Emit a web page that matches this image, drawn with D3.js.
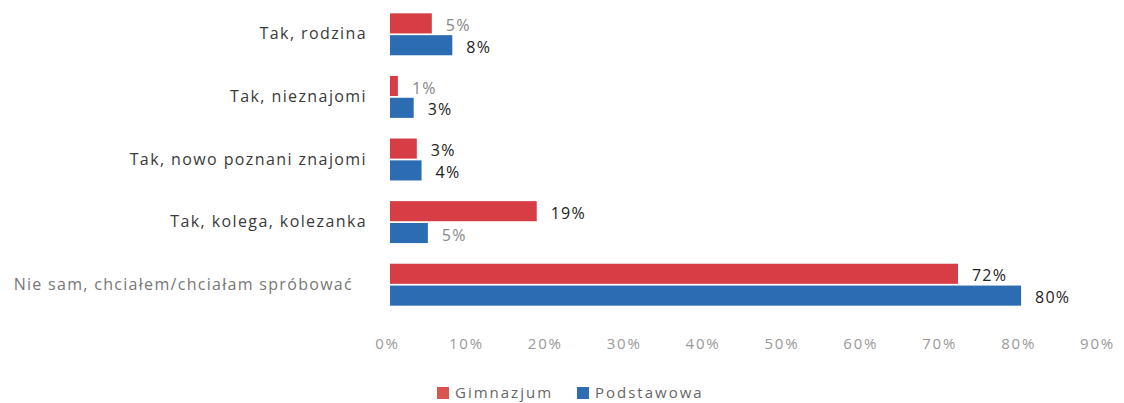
<!DOCTYPE html>
<html>
<head>
<meta charset="utf-8">
<script src="https://cdn.jsdelivr.net/npm/d3@7"></script>
<style>
  html, body { margin: 0; padding: 0; background: #fff; }
  svg { display: block; }
  text { font-family: "Open Sans", "DejaVu Sans", sans-serif; }
</style>
</head>
<body>
<svg id="chart" width="1124" height="403"></svg>
<script>
const categories = [
  "Tak, rodzina",
  "Tak, nieznajomi",
  "Tak, nowo poznani znajomi",
  "Tak, kolega, kolezanka",
  "Nie sam, chciałem/chciałam spróbować"
];
const seriesNames = ["Gimnazjum", "Podstawowa"];
const gimnazjum = [5.3, 1.0, 3.4, 18.6, 72];
const podstawowa = [7.9, 3.0, 4.0, 4.8, 80];
const xTicks = [0, 10, 20, 30, 40, 50, 60, 70, 80, 90];

const colors = ["#d63d45", "#2b6cb3"];
const legendColors = ["#d9534f", "#2e6db4"];
// labels that appear faded in the scanned original (series index, category index)
const fadedLabels = new Set(["0-0", "0-1", "1-3"]);

const svg = d3.select("#chart");
const values = [gimnazjum, podstawowa];

const x = d3.scaleLinear().domain([0, 90]).range([390, 1100]);
const y = d3.scaleBand().domain(categories).range([3, 316])
  .paddingInner(0.33).paddingOuter(0.165);
const ySub = d3.scaleBand().domain(seriesNames).range([0, y.bandwidth()]).paddingInner(0.08);

// bars
const g = svg.append("g");
categories.forEach((c, ci) => {
  seriesNames.forEach((s, si) => {
    const v = values[si][ci];
    g.append("rect")
      .attr("x", x(0))
      .attr("y", y(c) + ySub(s))
      .attr("width", x(v) - x(0))
      .attr("height", ySub.bandwidth())
      .attr("fill", colors[si]);
    g.append("text")
      .attr("x", x(v) + 14)
      .attr("y", y(c) + ySub(s) + ySub.bandwidth() / 2 + 2)
      .attr("dy", "0.35em")
      .attr("font-size", 16)
      .attr("letter-spacing", "1.2px")
      .attr("fill", fadedLabels.has(si + "-" + ci) ? "#888" : "#222")
      .text(Math.round(v) + "%");
  });
});

// category labels
const yAxis = svg.append("g").attr("transform", `translate(${x(0) - 23},0)`)
  .call(d3.axisLeft(y).tickSize(0).tickPadding(0));
yAxis.select(".domain").remove();
yAxis.selectAll("text")
  .attr("font-size", 16)
  .attr("font-family", "\"Open Sans\", sans-serif")
  .attr("fill", "#3a3a3a")
  .attr("letter-spacing", "1.4px")
  .attr("dy", "0.32em");
yAxis.selectAll(".tick").filter((d, i) => i === categories.length - 1)
  .select("text").attr("fill", "#777").attr("letter-spacing", "1.3px")
  .attr("x", -14);

// x axis
const xAxis = svg.append("g").attr("transform", "translate(0,330)")
  .call(d3.axisBottom(x).tickValues(xTicks).tickSize(0).tickPadding(0)
    .tickFormat(d => d + "%"));
xAxis.select(".domain").remove();
xAxis.selectAll("text")
  .attr("font-size", 15)
  .attr("font-family", "\"Open Sans\", sans-serif")
  .attr("fill", "#999")
  .attr("letter-spacing", "1.8px")
  .attr("y", 14)
  .attr("dy", "0.32em")
  .attr("dx", -3);

// legend
const legendX = [437, 577];
seriesNames.forEach((s, i) => {
  const lg = svg.append("g").attr("transform", `translate(${legendX[i]},387)`);
  lg.append("rect").attr("width", 12).attr("height", 12).attr("fill", legendColors[i]);
  lg.append("text").attr("x", 18).attr("y", 6).attr("dy", "0.35em")
    .attr("font-size", 15).attr("fill", "#666").attr("letter-spacing", "2px")
    .text(s);
});
</script>
</body>
</html>
